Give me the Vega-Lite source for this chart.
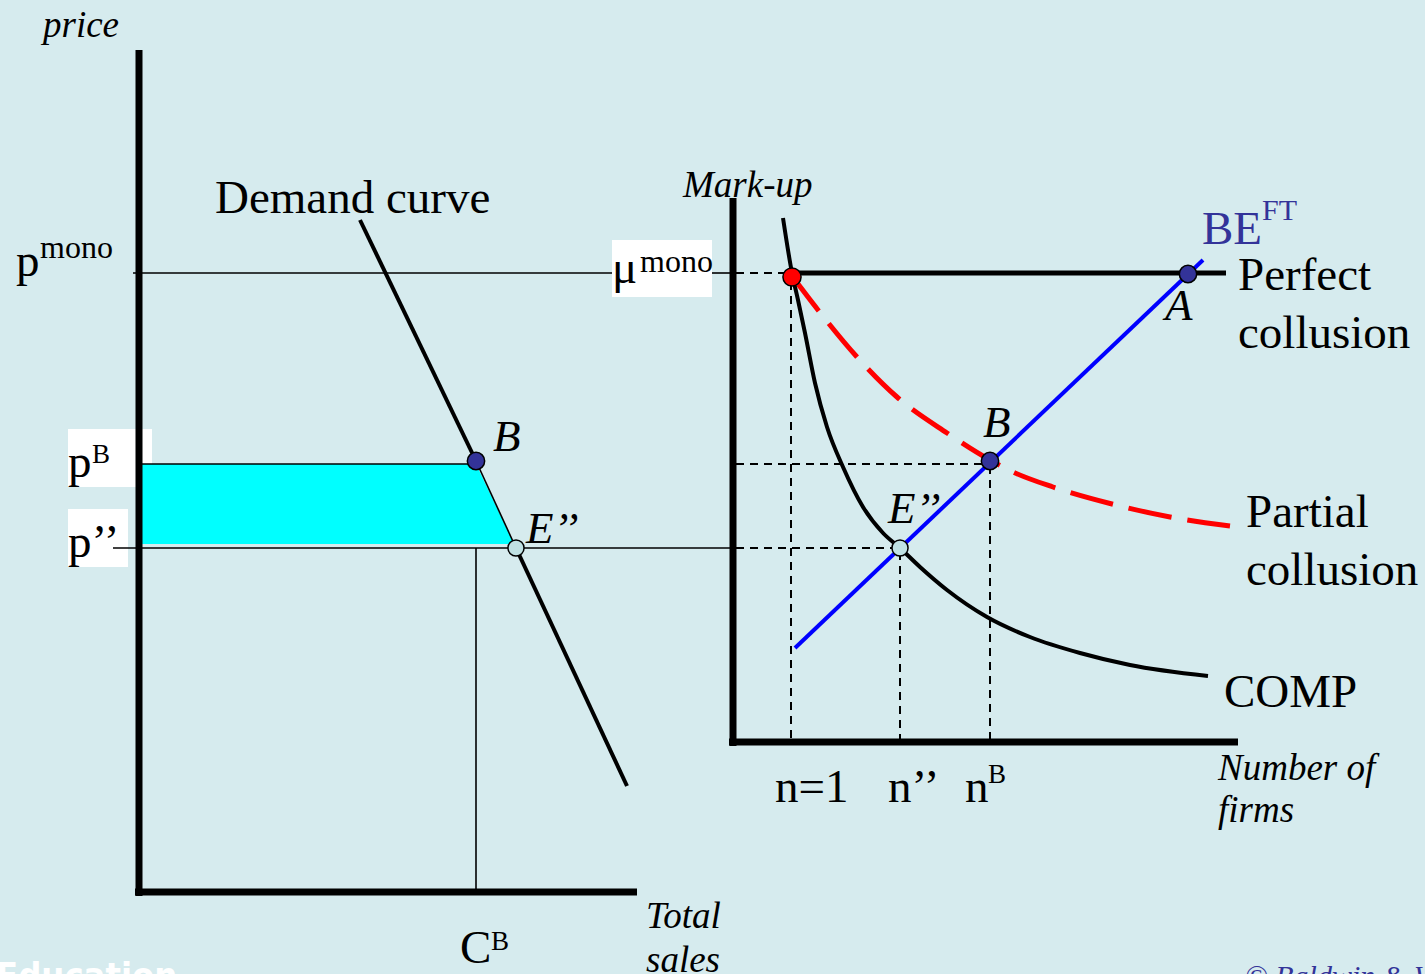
{
  "$schema": "https://vega.github.io/schema/vega-lite/v6.json",
  "width": 1425,
  "height": 974,
  "autosize": {"type": "none"},
  "padding": 0,
  "background": "#d6ebee",
  "config": {"view": {"stroke": null}, "axis": {"disable": true}},
  "datasets": {
    "boxes": [
      {"x": 68, "x2": 152, "y": 429, "y2": 487},
      {"x": 68, "x2": 128, "y": 509, "y2": 567},
      {"x": 612, "x2": 712, "y": 240, "y2": 297}
    ],
    "trap": [
      {"y": 464, "xa": 137, "xb": 476},
      {"y": 544, "xa": 137, "xb": 514}
    ],
    "thin": [
      {"x": 133, "y": 273, "x2": 612, "y2": 273},
      {"x": 712, "y": 273, "x2": 736, "y2": 273},
      {"x": 113, "y": 548, "x2": 736, "y2": 548},
      {"x": 476, "y": 548, "x2": 476, "y2": 889},
      {"x": 137, "y": 464, "x2": 476, "y2": 464},
      {"x": 476, "y": 461, "x2": 516, "y2": 548}
    ],
    "dashed": [
      {"x": 736, "y": 273, "x2": 790, "y2": 273},
      {"x": 736, "y": 464, "x2": 990, "y2": 464},
      {"x": 736, "y": 548, "x2": 900, "y2": 548},
      {"x": 791, "y": 282, "x2": 791, "y2": 740},
      {"x": 900, "y": 552, "x2": 900, "y2": 740},
      {"x": 990, "y": 466, "x2": 990, "y2": 740}
    ],
    "axes": [
      {"x": 139, "y": 50, "x2": 139, "y2": 896},
      {"x": 135, "y": 892, "x2": 637, "y2": 892},
      {"x": 733, "y": 198, "x2": 733, "y2": 746},
      {"x": 729, "y": 742, "x2": 1238, "y2": 742}
    ],
    "demand": [
      {"x": 360, "y": 220, "x2": 476, "y2": 461},
      {"x": 516, "y": 548, "x2": 627, "y2": 786}
    ],
    "perfect": [{"x": 790, "y": 273, "x2": 1226, "y2": 273}],
    "be": [{"x": 795, "y": 648, "x2": 1203, "y2": 260}],
    "comp": [
      {"x": 783, "y": 218}, {"x": 792, "y": 273}, {"x": 798, "y": 300},
      {"x": 805, "y": 333}, {"x": 815, "y": 383}, {"x": 827, "y": 427},
      {"x": 843, "y": 467}, {"x": 863, "y": 507}, {"x": 883, "y": 533},
      {"x": 900, "y": 548}, {"x": 920, "y": 567}, {"x": 947, "y": 590},
      {"x": 987, "y": 617}, {"x": 1030, "y": 637}, {"x": 1080, "y": 653},
      {"x": 1130, "y": 665}, {"x": 1208, "y": 676}
    ],
    "partial": [
      {"x": 792, "y": 276}, {"x": 818, "y": 310}, {"x": 857, "y": 357},
      {"x": 897, "y": 397}, {"x": 947, "y": 433}, {"x": 990, "y": 460},
      {"x": 1013, "y": 472}, {"x": 1053, "y": 487}, {"x": 1112, "y": 504},
      {"x": 1170, "y": 517}, {"x": 1230, "y": 526}
    ],
    "ptNavy": [{"x": 476, "y": 461}, {"x": 990, "y": 461}, {"x": 1188, "y": 274}],
    "ptLight": [{"x": 516, "y": 548}, {"x": 900, "y": 548}],
    "ptRed": [{"x": 792, "y": 277}],
    "txtBig": [
      {"x": 215, "y": 213, "t": "Demand curve"},
      {"x": 16, "y": 276, "t": "p"},
      {"x": 68, "y": 477, "t": "p"},
      {"x": 68, "y": 557, "t": "p’’"},
      {"x": 612, "y": 283, "t": "μ"},
      {"x": 1238, "y": 290, "t": "Perfect"},
      {"x": 1238, "y": 348, "t": "collusion"},
      {"x": 1246, "y": 527, "t": "Partial"},
      {"x": 1246, "y": 585, "t": "collusion"},
      {"x": 1224, "y": 707, "t": "COMP"},
      {"x": 775, "y": 802, "t": "n=1"},
      {"x": 888, "y": 802, "t": "n’’"},
      {"x": 965, "y": 802, "t": "n"},
      {"x": 460, "y": 963, "t": "C"}
    ],
    "txtSup": [
      {"x": 40, "y": 258, "t": "mono"},
      {"x": 640, "y": 272, "t": "mono"}
    ],
    "txtSupB": [
      {"x": 92, "y": 463, "t": "B"},
      {"x": 988, "y": 783, "t": "B"},
      {"x": 491, "y": 950, "t": "B"}
    ],
    "txtItal": [
      {"x": 43, "y": 37, "t": "price"},
      {"x": 683, "y": 197, "t": "Mark-up"},
      {"x": 1218, "y": 780, "t": "Number of"},
      {"x": 1218, "y": 822, "t": "firms"},
      {"x": 646, "y": 928, "t": "Total"},
      {"x": 646, "y": 972, "t": "sales"}
    ],
    "txtItalBig": [
      {"x": 493, "y": 451, "t": "B"},
      {"x": 526, "y": 543, "t": "E’’"},
      {"x": 983, "y": 437, "t": "B"},
      {"x": 888, "y": 523, "t": "E’’"},
      {"x": 1165, "y": 320, "t": "A"}
    ],
    "txtBE": [{"x": 1202, "y": 244, "t": "BE"}],
    "txtFT": [{"x": 1262, "y": 220, "t": "FT"}],
    "txtEdu": [{"x": -4, "y": 988, "t": "Education"}],
    "txtCopy": [{"x": 1245, "y": 986, "t": "© Baldwin & Wyplosz"}]
  },
  "encoding": {
    "x": {"field": "x", "type": "quantitative", "scale": {"domain": [0, 1425], "nice": false, "zero": false}, "axis": null},
    "y": {"field": "y", "type": "quantitative", "scale": {"domain": [0, 974], "nice": false, "zero": false, "reverse": true}, "axis": null}
  },
  "layer": [
    {
      "data": {"name": "boxes"},
      "mark": {"type": "rect", "fill": "#ffffff"},
      "encoding": {"x2": {"field": "x2"}, "y2": {"field": "y2"}}
    },
    {
      "data": {"name": "trap"},
      "mark": {"type": "area", "orient": "horizontal", "fill": "#00ffff", "opacity": 1},
      "encoding": {
        "x": {"field": "xa", "type": "quantitative", "scale": {"domain": [0, 1425], "nice": false, "zero": false}, "axis": null},
        "x2": {"field": "xb"},
        "y": {"field": "y", "type": "quantitative", "scale": {"domain": [0, 974], "nice": false, "zero": false, "reverse": true}, "axis": null}
      }
    },
    {
      "data": {"name": "thin"},
      "mark": {"type": "rule", "stroke": "#000000", "strokeWidth": 1.6},
      "encoding": {"x2": {"field": "x2"}, "y2": {"field": "y2"}}
    },
    {
      "data": {"name": "dashed"},
      "mark": {"type": "rule", "stroke": "#000000", "strokeWidth": 2, "strokeDash": [8, 6]},
      "encoding": {"x2": {"field": "x2"}, "y2": {"field": "y2"}}
    },
    {
      "data": {"name": "axes"},
      "mark": {"type": "rule", "stroke": "#000000", "strokeWidth": 7, "strokeCap": "butt"},
      "encoding": {"x2": {"field": "x2"}, "y2": {"field": "y2"}}
    },
    {
      "data": {"name": "demand"},
      "mark": {"type": "rule", "stroke": "#000000", "strokeWidth": 4},
      "encoding": {"x2": {"field": "x2"}, "y2": {"field": "y2"}}
    },
    {
      "data": {"name": "perfect"},
      "mark": {"type": "rule", "stroke": "#000000", "strokeWidth": 5},
      "encoding": {"x2": {"field": "x2"}, "y2": {"field": "y2"}}
    },
    {
      "data": {"name": "comp"},
      "mark": {"type": "line", "stroke": "#000000", "strokeWidth": 4, "interpolate": "monotone"},
      "encoding": {}
    },
    {
      "data": {"name": "partial"},
      "mark": {"type": "line", "stroke": "#ff0000", "strokeWidth": 5, "strokeDash": [44, 16], "interpolate": "monotone"},
      "encoding": {}
    },
    {
      "data": {"name": "be"},
      "mark": {"type": "rule", "stroke": "#0000ff", "strokeWidth": 4},
      "encoding": {"x2": {"field": "x2"}, "y2": {"field": "y2"}}
    },
    {
      "data": {"name": "ptNavy"},
      "mark": {"type": "point", "filled": true, "fill": "#333399", "stroke": "#000000", "strokeWidth": 1.5, "size": 300, "opacity": 1}
    },
    {
      "data": {"name": "ptLight"},
      "mark": {"type": "point", "filled": true, "fill": "#c0e2e4", "stroke": "#000000", "strokeWidth": 1.5, "size": 260, "opacity": 1}
    },
    {
      "data": {"name": "ptRed"},
      "mark": {"type": "point", "filled": true, "fill": "#ff0000", "stroke": "#000000", "strokeWidth": 1.5, "size": 330, "opacity": 1}
    },
    {
      "data": {"name": "txtBig"},
      "mark": {"type": "text", "font": "Liberation Serif", "fontSize": 47, "align": "left", "baseline": "alphabetic", "color": "#000000"},
      "encoding": {"text": {"field": "t"}}
    },
    {
      "data": {"name": "txtSup"},
      "mark": {"type": "text", "font": "Liberation Serif", "fontSize": 32, "align": "left", "baseline": "alphabetic", "color": "#000000"},
      "encoding": {"text": {"field": "t"}}
    },
    {
      "data": {"name": "txtSupB"},
      "mark": {"type": "text", "font": "Liberation Serif", "fontSize": 27, "align": "left", "baseline": "alphabetic", "color": "#000000"},
      "encoding": {"text": {"field": "t"}}
    },
    {
      "data": {"name": "txtItal"},
      "mark": {"type": "text", "font": "Liberation Serif", "fontStyle": "italic", "fontSize": 37, "align": "left", "baseline": "alphabetic", "color": "#000000"},
      "encoding": {"text": {"field": "t"}}
    },
    {
      "data": {"name": "txtItalBig"},
      "mark": {"type": "text", "font": "Liberation Serif", "fontStyle": "italic", "fontSize": 45, "align": "left", "baseline": "alphabetic", "color": "#000000"},
      "encoding": {"text": {"field": "t"}}
    },
    {
      "data": {"name": "txtBE"},
      "mark": {"type": "text", "font": "Liberation Serif", "fontSize": 47, "align": "left", "baseline": "alphabetic", "color": "#333399"},
      "encoding": {"text": {"field": "t"}}
    },
    {
      "data": {"name": "txtFT"},
      "mark": {"type": "text", "font": "Liberation Serif", "fontSize": 30, "align": "left", "baseline": "alphabetic", "color": "#333399"},
      "encoding": {"text": {"field": "t"}}
    },
    {
      "data": {"name": "txtEdu"},
      "mark": {"type": "text", "font": "DejaVu Sans Condensed", "fontWeight": "bold", "fontSize": 36, "align": "left", "baseline": "alphabetic", "color": "#ffffff"},
      "encoding": {"text": {"field": "t"}}
    },
    {
      "data": {"name": "txtCopy"},
      "mark": {"type": "text", "font": "Liberation Serif", "fontStyle": "italic", "fontSize": 30, "align": "left", "baseline": "alphabetic", "color": "#333399"},
      "encoding": {"text": {"field": "t"}}
    }
  ]
}
